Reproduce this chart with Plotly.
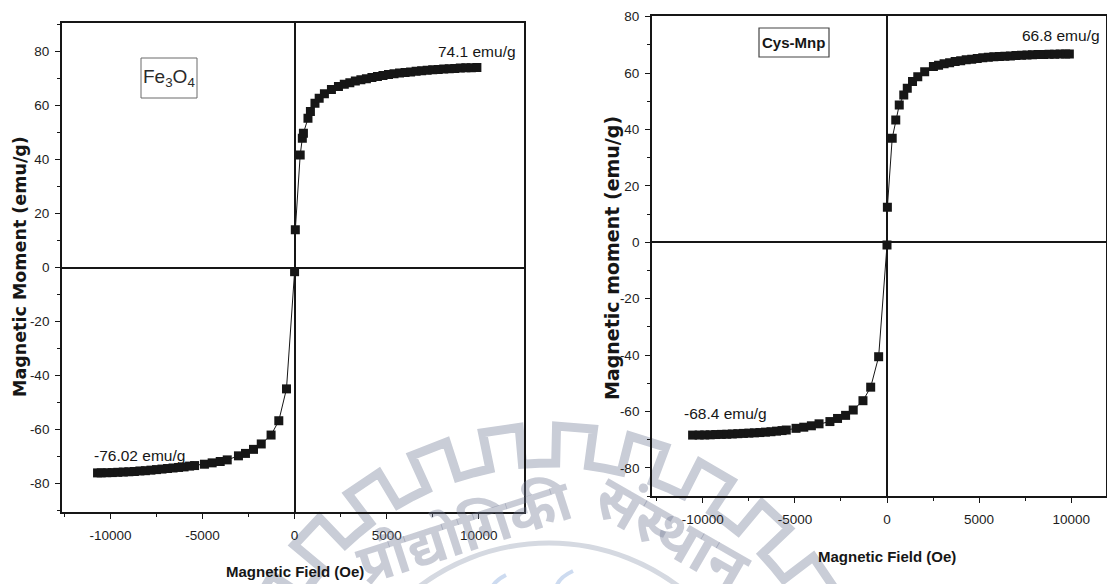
import math
import plotly.graph_objects as go

# ---------------- data ----------------
# Fe3O4 hysteresis sweep: field (Oe) and magnetic moment (emu/g)
fe_field = [-10700, -10500, -10200, -9900, -9600, -9300, -9000, -8700, -8400,
            -8100, -7800, -7500, -7200, -6900, -6600, -6300, -6000, -5700,
            -5430, -4895, -4476, -4038, -3657, -3048, -2667, -2230, -1810,
            -1276, -857, -440, 0, 40, 305, 420, 480, 727, 860, 1107, 1336,
            1620, 2001, 2382, 2700, 3000, 3300, 3600, 3900, 4200, 4500, 4800,
            5100, 5400, 5700, 6000, 6300, 6600, 6900, 7200, 7500, 7800, 8100,
            8400, 8700, 9000, 9300, 9600, 9900]
fe_moment = [-76.02, -76.0, -75.95, -75.9, -75.8, -75.7, -75.6, -75.5, -75.3,
             -75.2, -75.0, -74.8, -74.6, -74.4, -74.2, -74.0, -73.8, -73.5,
             -73.3, -72.8, -72.3, -71.8, -71.2, -69.7, -68.8, -67.3, -65.3,
             -62.0, -56.7, -44.9, -1.5, 14.0, 41.7, 47.9, 49.8, 55.3, 57.8,
             60.9, 62.7, 64.4, 66.0, 67.1, 67.9, 68.5, 69.1, 69.6, 70.0, 70.4,
             70.8, 71.2, 71.5, 71.8, 72.1, 72.3, 72.5, 72.7, 72.9, 73.1, 73.3,
             73.4, 73.6, 73.7, 73.8, 73.9, 74.0, 74.05, 74.1]

# Cysteine-coated nanoparticles (Cys-Mnp)
cys_field = [-10555, -10200, -9900, -9600, -9300, -9000, -8700, -8400, -8100,
             -7800, -7500, -7200, -6900, -6600, -6300, -6000, -5700, -5470,
             -4940, -4520, -4106, -3690, -3100, -2686, -2249, -1834, -1306,
             -886, -454, 0, 20, 282, 475, 665, 910, 1100, 1385, 1670, 2045,
             2520, 2800, 3100, 3400, 3700, 4000, 4300, 4600, 4900, 5200, 5500,
             5800, 6100, 6400, 6700, 7000, 7300, 7600, 7900, 8200, 8500, 8800,
             9100, 9400, 9700, 9900]
cys_moment = [-68.4, -68.38, -68.35, -68.3, -68.2, -68.15, -68.1, -68.0, -67.9,
              -67.8, -67.7, -67.6, -67.5, -67.35, -67.2, -67.0, -66.8, -66.6,
              -66.0, -65.6, -65.1, -64.4, -63.6, -62.5, -61.4, -59.5, -56.2,
              -51.4, -40.6, -1.0, 12.4, 36.9, 43.4, 48.7, 52.2, 54.6, 57.0,
              58.7, 60.5, 62.3, 62.8, 63.3, 63.7, 64.1, 64.4, 64.7, 64.9, 65.2,
              65.4, 65.6, 65.8, 65.9, 66.0, 66.1, 66.2, 66.3, 66.4, 66.5, 66.55,
              66.6, 66.65, 66.7, 66.75, 66.78, 66.8]

fe_ms_pos, fe_ms_neg = 74.1, -76.02
cys_ms_pos, cys_ms_neg = 66.8, -68.4

x_ticks = [-10000, -5000, 0, 5000, 10000]
x_labels = ["-10000", "-5000", "0", "5000", "10000"]
y_ticks = [-80, -60, -40, -20, 0, 20, 40, 60, 80]
y_labels = ["-80", "-60", "-40", "-20", "0", "20", "40", "60", "80"]

# ---------------- styling ----------------
W, H = 1107, 584
SANS = "Liberation Sans, Arial, sans-serif"
WIDE = "DejaVu Sans, Verdana, sans-serif"
INK = "#161616"
WM = "#c9cdd7"
WM_TEXT = "rgba(112,122,148,0.38)"


def px(x, y):
    """pixel position -> paper coordinates"""
    return x / W, 1 - y / H


fig = go.Figure()

for xs, ys, xa, ya in [(fe_field, fe_moment, "x", "y"),
                       (cys_field, cys_moment, "x2", "y2")]:
    fig.add_trace(go.Scatter(
        x=xs, y=ys, xaxis=xa, yaxis=ya, mode="lines+markers",
        line=dict(color=INK, width=1),
        marker=dict(symbol="square", size=9, color=INK, line=dict(width=0)),
        showlegend=False, hoverinfo="x+y"))

axis_common = dict(
    showline=True, linecolor=INK, linewidth=1.8, mirror=True,
    showgrid=False, zeroline=True, zerolinecolor=INK, zerolinewidth=1.6,
    ticks="outside", ticklen=5, tickwidth=1.3, tickcolor=INK,
    tickfont=dict(family=SANS, size=13.5, color="#1c1c1c"), automargin=False,
)
x_minor = dict(ticks="outside", ticklen=3, dtick=2500, tick0=0,
               tickcolor=INK, tickwidth=1.2)
y_minor = dict(ticks="outside", ticklen=3, dtick=10, tick0=0,
               tickcolor=INK, tickwidth=1.2)

fig.update_layout(
    width=W, height=H,
    margin=dict(l=0, r=0, t=0, b=0, autoexpand=False),
    paper_bgcolor="white", plot_bgcolor="rgba(0,0,0,0)",
    xaxis=dict(domain=[62 / W, 524.4 / W], range=[-12630, 12480],
               tickvals=x_ticks, ticktext=x_labels, ticklabelstandoff=5,
               anchor="y", minor=x_minor, **axis_common),
    yaxis=dict(domain=[1 - 512 / H, 1 - 23.3 / H], range=[-90.5, 90.5],
               tickvals=y_ticks, ticktext=y_labels, ticklabelstandoff=3,
               anchor="x", minor=y_minor, **axis_common),
    xaxis2=dict(domain=[652 / W, 1106 / W], range=[-12760, 11890],
                tickvals=x_ticks, ticktext=x_labels, ticklabelstandoff=5,
                anchor="y2", minor=x_minor, **axis_common),
    yaxis2=dict(domain=[1 - 496 / H, 1 - 15.7 / H], range=[-90, 80.35],
                tickvals=y_ticks, ticktext=y_labels, ticklabelstandoff=3,
                anchor="x2", minor=y_minor, **axis_common),
)

# ---------------- in-plot labels ----------------
ann = []
ann.append(dict(xref="x", yref="y", x=-6818, y=70.3,
                text="Fe<sub>3</sub>O<sub>4</sub>", showarrow=False,
                font=dict(family=SANS, size=19, color="#2a2a2a")))
ann.append(dict(xref="x", yref="y", x=9902, y=79.9,
                text=f"{fe_ms_pos} emu/g", showarrow=False,
                font=dict(family=SANS, size=15.5, color=INK)))
ann.append(dict(xref="x", yref="y", x=-8442, y=-69.4,
                text=f"{fe_ms_neg:.2f} emu/g", showarrow=False,
                font=dict(family=SANS, size=15.5, color=INK)))
ann.append(dict(xref="x2", yref="y2", x=-5060, y=70.7,
                text="<b>Cys-Mnp</b>", showarrow=False,
                font=dict(family=SANS, size=15, color=INK)))
ann.append(dict(xref="x2", yref="y2", x=9450, y=73.5,
                text=f"{cys_ms_pos} emu/g", showarrow=False,
                font=dict(family=SANS, size=15.5, color=INK)))
ann.append(dict(xref="x2", yref="y2", x=-8755, y=-60.6,
                text=f"{cys_ms_neg} emu/g", showarrow=False,
                font=dict(family=SANS, size=15.5, color=INK)))

# axis titles
for (x, y, text, size, angle, fam) in [
        (20, 267, "<b>Magnetic Moment (emu/g)</b>", 17.5, -90, WIDE),
        (612, 258, "<b>Magnetic moment (emu/g)</b>", 19, -90, WIDE),
        (294.6, 571, "<b>Magnetic Field (Oe)</b>", 15, 0, SANS),
        (887, 556, "<b>Magnetic Field (Oe)</b>", 15, 0, SANS)]:
    xp, yp = px(x, y)
    ann.append(dict(xref="paper", yref="paper", x=xp, y=yp, text=text,
                    showarrow=False, textangle=angle, xanchor="center",
                    yanchor="middle",
                    font=dict(family=fam, size=size, color=INK)))

# institute watermark text (translucent so the axis labels stay readable)
for (x, y, text, angle, size) in [(464, 603, "प्रौद्योगिकी", -18, 56),
                                  (673, 612, "संस्थान", 30, 60)]:
    xp, yp = px(x, y)
    ann.append(dict(xref="paper", yref="paper", x=xp, y=yp, text=text,
                    showarrow=False, textangle=angle,
                    font=dict(family="Noto Sans, sans-serif", size=size,
                              weight="bold", color=WM_TEXT)))

fig.update_layout(annotations=ann)

# ---------------- watermark cog ----------------
cx, cy, r_out, r_in = 549, 758, 332, 295
n_teeth, phase, half = 28, 4.5, 3.2
step = 360 / n_teeth


def pt(r, a):
    a = math.radians(a)
    return px(cx + r * math.sin(a), cy - r * math.cos(a))


segs = []
for i in range(n_teeth):
    c = phase + i * step
    for r, a in [(r_in, c - step / 2), (r_in, c - half), (r_out, c - half),
                 (r_out, c + half), (r_in, c + half)]:
        segs.append(pt(r, a))
path = "M " + " L ".join(f"{x:.5f},{y:.5f}" for x, y in segs) + " Z"


def arc_path(x0, y0, xm, ym, x1, y1):
    a, b, c = px(x0, y0), px(xm, ym), px(x1, y1)
    return f"M {a[0]:.5f},{a[1]:.5f} Q {b[0]:.5f},{b[1]:.5f} {c[0]:.5f},{c[1]:.5f}"


def frame(x0, y0, x1, y1, color, width):
    a, b = px(x0, y0), px(x1, y1)
    return dict(type="rect", xref="paper", yref="paper",
                x0=a[0], x1=b[0], y0=b[1], y1=a[1],
                line=dict(color=color, width=width), fillcolor="white",
                layer="above")


shapes = [dict(type="path", xref="paper", yref="paper", path=path,
               line=dict(color=WM, width=9), layer="below"),
          dict(type="circle", xref="paper", yref="paper",
               x0=(cx - 215) / W, x1=(cx + 215) / W,
               y0=1 - (cy + 215) / H, y1=1 - (cy - 215) / H,
               line=dict(color="#d5d9e1", width=5), layer="below"),
          dict(type="path", xref="paper", yref="paper",
               path=arc_path(506, 575, 488, 584, 492, 596),
               line=dict(color="#cddbf0", width=4), layer="below"),
          dict(type="path", xref="paper", yref="paper",
               path=arc_path(573, 571, 553, 580, 556, 596),
               line=dict(color="#cddbf0", width=4), layer="below"),
          # sample-name boxes
          frame(141, 58, 197, 98, "#6a6a6a", 1),
          frame(759, 28, 829, 57, "#444444", 1.2)]
fig.update_layout(shapes=shapes)

fig.write_html("out.html")
